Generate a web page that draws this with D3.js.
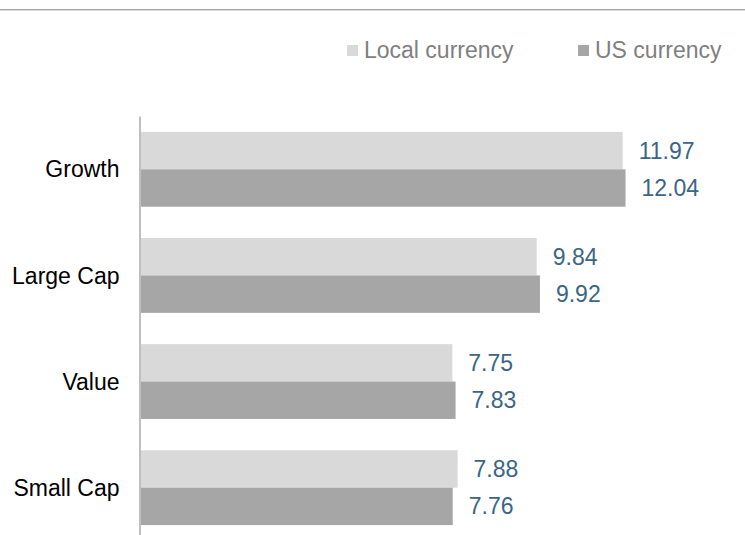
<!DOCTYPE html>
<html>
<head>
<meta charset="utf-8">
<script src="https://cdn.jsdelivr.net/npm/d3@7"></script>
<style>
  html, body { margin: 0; padding: 0; background: #fff; }
  svg { display: block; font-family: "Liberation Sans", Arial, sans-serif; }
</style>
</head>
<body>
<svg id="chart" width="745" height="535"></svg>
<script>
const categories = ["Growth", "Large Cap", "Value", "Small Cap"];
const seriesNames = ["Local currency", "US currency"];
const localCurrency = [11.97, 9.84, 7.75, 7.88];
const usCurrency = [12.04, 9.92, 7.83, 7.76];
const seriesColors = ["#d9d9d9", "#a6a6a6"];

const data = categories.map((c, i) => ({ category: c, values: [localCurrency[i], usCurrency[i]] }));

const W = 745, H = 535;
const FS = 23;
const svg = d3.select("#chart");

// top rule
svg.append("line").attr("x1", 0).attr("x2", W).attr("y1", 9.5).attr("y2", 9.5)
  .attr("stroke", "#a6a6a6").attr("stroke-width", 1);
svg.append("line").attr("x1", 0).attr("x2", W).attr("y1", 10.5).attr("y2", 10.5)
  .attr("stroke", "#d9d9d9").attr("stroke-width", 1);

const x = d3.scaleLinear().domain([0, 15]).range([139.5, 745]);
const y = d3.scaleBand().domain(categories).range([116, 541]).paddingInner(0.295).paddingOuter(0.15);
const ySub = d3.scaleBand().domain([0, 1]).range([0, y.bandwidth()]);

const groups = svg.selectAll("g.cat").data(data).join("g")
  .attr("class", "cat")
  .attr("transform", d => `translate(0,${y(d.category)})`);

groups.selectAll("rect").data(d => d.values.map((v, i) => ({ v, i }))).join("rect")
  .attr("x", x(0))
  .attr("y", d => ySub(d.i))
  .attr("width", d => x(d.v) - x(0))
  .attr("height", ySub.bandwidth())
  .attr("fill", d => seriesColors[d.i]);

groups.selectAll("text.val").data(d => d.values.map((v, i) => ({ v, i }))).join("text")
  .attr("class", "val")
  .attr("x", d => x(d.v) + 16)
  .attr("y", d => ySub(d.i) + ySub.bandwidth() / 2)
  .attr("dy", "0.35em")
  .attr("font-size", FS)
  .attr("fill", "#3a6684")
  .text(d => d.v.toFixed(2));

// y axis
const yAxis = d3.axisLeft(y).tickSize(0).tickPadding(20);
const ax = svg.append("g").attr("transform", `translate(${x(0)},0)`).call(yAxis);
ax.select(".domain").attr("stroke", "#bfbfbf").attr("stroke-width", 2);
ax.selectAll("text").attr("font-size", FS).attr("fill", "#000")
  .attr("font-family", "Liberation Sans, Arial, sans-serif").attr("dy", "0.35em");

// legend
const legendX = [347, 578];
const lg = svg.selectAll("g.leg").data(seriesNames).join("g")
  .attr("class", "leg")
  .attr("transform", (d, i) => `translate(${legendX[i]},0)`);
lg.append("rect").attr("x", 0).attr("y", 45).attr("width", 11).attr("height", 11)
  .attr("fill", (d, i) => seriesColors[i]);
lg.append("text").attr("x", 17).attr("y", 58).attr("font-size", FS)
  .attr("fill", "#7f7f7f").text(d => d);
</script>
</body>
</html>
